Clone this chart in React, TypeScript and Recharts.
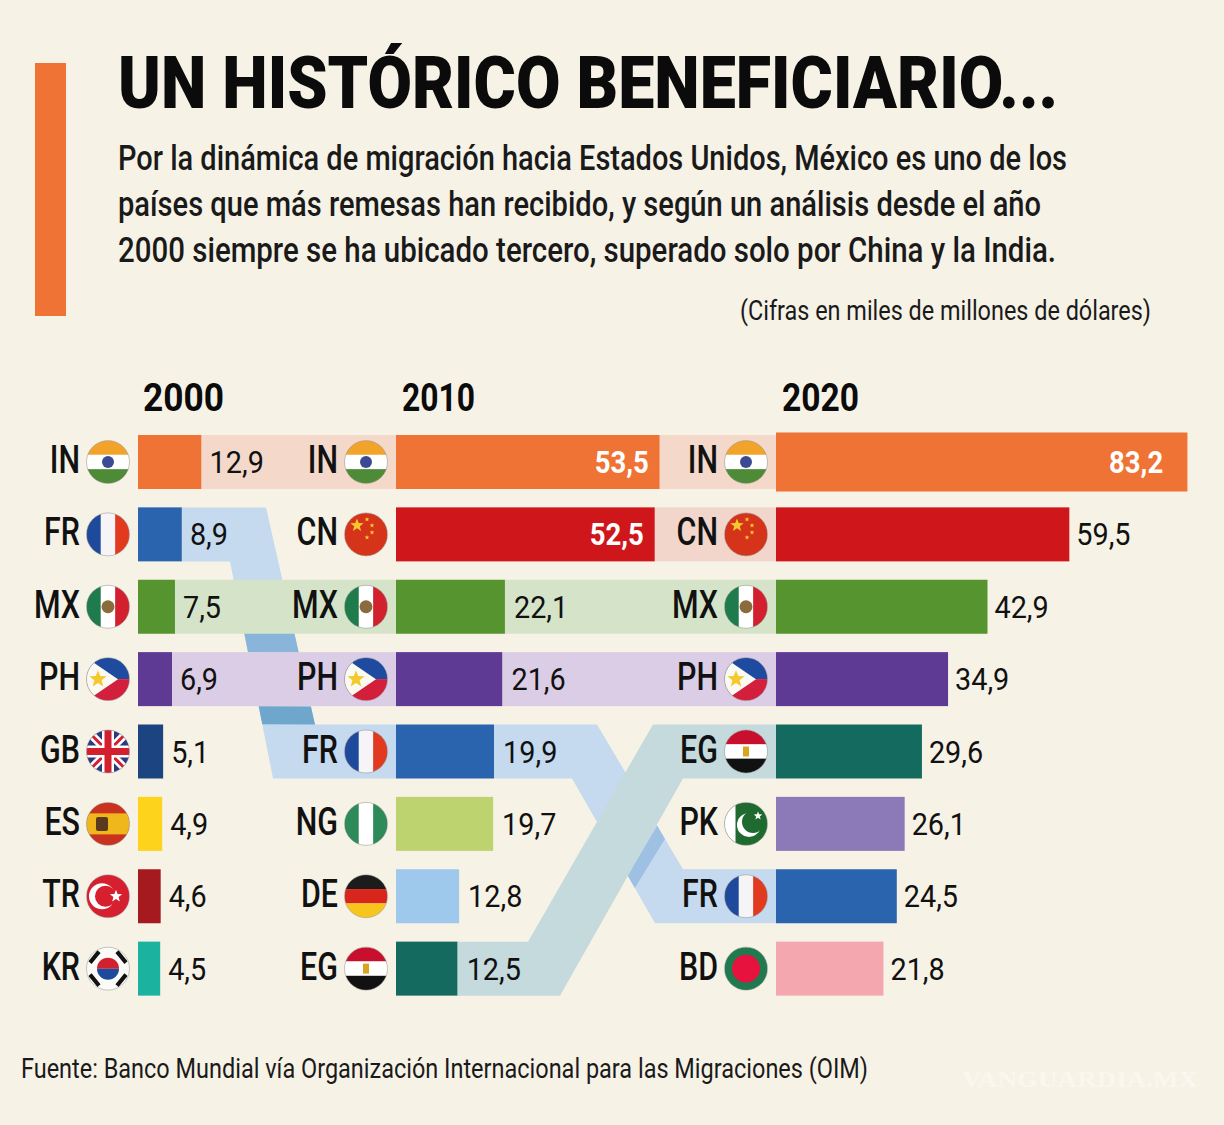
/**
 * Top remittance receivers in 2000, 2010 and 2020, as one stacked horizontal bar chart.
 * Spacers and gap segments push the three columns apart; gap segments also draw the ribbons.
 */

import { Bar, BarChart, LabelList, XAxis, YAxis } from "recharts";

const codes2000 = ["IN", "FR", "MX", "PH", "GB", "ES", "TR", "KR"];
const values2000 = [12.9, 8.9, 7.5, 6.9, 5.1, 4.9, 4.6, 4.5];
const codes2010 = ["IN", "CN", "MX", "PH", "FR", "NG", "DE", "EG"];
const values2010 = [53.5, 52.5, 22.1, 21.6, 19.9, 19.7, 12.8, 12.5];
const codes2020 = ["IN", "CN", "MX", "PH", "EG", "PK", "FR", "BD"];
const values2020 = [83.2, 59.5, 42.9, 34.9, 29.6, 26.1, 24.5, 21.8];
const years = ["2000", "2010", "2020"];
const whiteLabels2010 = ["IN", "CN"];
const whiteLabels2020 = ["IN"];

const barColors: Record<string, string> = {
  IN: "#ee7335", FR: "#2a63ae", MX: "#56942f", PH: "#5e3a94", GB: "#1c4480", ES: "#fdd31b",
  TR: "#a51a1f", KR: "#1bb2a0", CN: "#cf161b", NG: "#bdd36f", DE: "#9ec9ec", EG: "#146a5e",
  PK: "#8b79b8", BD: "#f4a7ae",
};
const bandColors: Record<string, string> = {
  IN: "#f4d9cb", CN: "#f2d5cb", MX: "#d5e4c8", PH: "#dccde6", FR: "#c5d9ef", EG: "#c4dadd",
};

// Pixels per unit and where each column starts, in chart units
const PX = 4.93;
const START_2000 = 138 / PX;
const START_2010 = 396 / PX;
const START_2020 = 776 / PX;
const ROW_STEP = 72.4;
const BG = "#f7f2e6";
const FONT = "Roboto, sans-serif";

const rows = codes2000.map((code, i) => ({
  row: code,
  spacer: START_2000,
  v2000: values2000[i],
  gap1: START_2010 - START_2000 - values2000[i],
  v2010: values2010[i],
  gap2: START_2020 - START_2010 - values2010[i],
  v2020: values2020[i],
}));

// Bend points of the ribbons: x where each edge leaves its row and reaches the next one
const ribbons: Record<string, any> = {
  "FR-1": {
    top: [266, 315], bottom: [230, 273],
    strips: [
      { right: [0.574, 0.667], left: [0.324, 0.417], fill: "#8ab5da" },
      { right: [0.917, 1], left: [0.667, 0.75], fill: "#6ea6cc" },
    ],
  },
  "FR-2": {
    top: [597, 683], bottom: [572, 655],
    strips: [{ right: [0.7, 0.79], left: [0.67, 0.757], fill: "#9dc0e3" }],
  },
  "EG-2": { top: [528, 653], bottom: [560, 683], strips: [] },
};

function GapShape(props: any, from: string[], to: string[], gap: number) {
  const { x, y, width, height, index } = props;
  const code = from[index];
  const target = to.indexOf(code);
  if (target < 0) return <g />;
  const fill = bandColors[code];
  if (target === index) return <rect x={x} y={y} width={width} height={height} fill={fill} />;

  // The ribbon ends at the start of the next column, in the row where the country lands
  const ribbon = ribbons[`${code}-${gap}`];
  const dy = (target - index) * ROW_STEP;
  const endRow = x + width;
  const points = [
    [x, y],
    [ribbon.top[0], y],
    [ribbon.top[1], y + dy],
    [endRow, y + dy],
    [endRow, y + dy + height],
    [ribbon.bottom[1], y + dy + height],
    [ribbon.bottom[0], y + height],
    [x, y + height],
  ];
  const edge = (side: number[], t: number, y0: number) => [
    side[0] + (side[1] - side[0]) * t,
    y0 + dy * t,
  ];
  return (
    <g>
      <polygon points={points.map((p) => p.join(",")).join(" ")} fill={fill} />
      {ribbon.strips.map((s: any, i: number) => {
        const strip = [
          edge(ribbon.top, s.right[0], y),
          edge(ribbon.top, s.right[1], y),
          edge(ribbon.bottom, s.left[1], y + height),
          edge(ribbon.bottom, s.left[0], y + height),
        ];
        return <polygon key={i} points={strip.map((p) => p.join(",")).join(" ")} fill={s.fill} />;
      })}
    </g>
  );
}

function ColumnShape(props: any, codes: string[], grow = 0) {
  const { x, y, width, height, index } = props;
  const extra = index === 0 ? grow : 0;
  return (
    <rect
      x={x}
      y={y - extra}
      width={width + extra / 2}
      height={height + extra * 2}
      fill={barColors[codes[index]]}
    />
  );
}

function Flag({ code, cx, cy }: { code: string; cx: number; cy: number }) {
  const r = 21.5;
  const id = `flag-${code}-${Math.round(cx)}-${Math.round(cy)}`;
  const l = cx - r;
  const t = cy - r;
  const d = r * 2;
  const third = d / 3;
  const hStripes = (a: string, b: string, c: string) => (
    <>
      <rect x={l} y={t} width={d} height={third} fill={a} />
      <rect x={l} y={t + third} width={d} height={third} fill={b} />
      <rect x={l} y={t + third * 2} width={d} height={third} fill={c} />
    </>
  );
  const vStripes = (a: string, b: string, c: string) => (
    <>
      <rect x={l} y={t} width={third} height={d} fill={a} />
      <rect x={l + third} y={t} width={third} height={d} fill={b} />
      <rect x={l + third * 2} y={t} width={third} height={d} fill={c} />
    </>
  );
  const star = (sx: number, sy: number, s: number, fill: string) => (
    <polygon
      points={[0, 1, 2, 3, 4, 5, 6, 7, 8, 9]
        .map((k) => {
          const a = (k * Math.PI) / 5 - Math.PI / 2;
          const m = k % 2 ? s * 0.42 : s;
          return `${sx + m * Math.cos(a)},${sy + m * Math.sin(a)}`;
        })
        .join(" ")}
      fill={fill}
    />
  );
  let art = null;
  if (code === "IN") {
    art = (
      <>
        {hStripes("#f2a32a", "#ffffff", "#4d8b36")}
        <circle cx={cx} cy={cy} r={6} fill="#3c4a94" />
      </>
    );
  } else if (code === "FR") {
    art = vStripes("#1f4a9c", "#f6f4f6", "#e23a1e");
  } else if (code === "MX") {
    art = (
      <>
        {vStripes("#1f7a4c", "#ffffff", "#d3202e")}
        <circle cx={cx} cy={cy} r={6.5} fill="#8b6a3c" />
      </>
    );
  } else if (code === "PH") {
    art = (
      <>
        <rect x={l} y={t} width={d} height={r} fill="#1e4aa0" />
        <rect x={l} y={cy} width={d} height={r} fill="#d31e3c" />
        <polygon points={`${l},${t} ${cx + 10},${cy} ${l},${t + d}`} fill="#fbfaf2" />
        {star(cx - 10, cy, 9, "#f4c92d")}
      </>
    );
  } else if (code === "GB") {
    art = (
      <>
        <rect x={l} y={t} width={d} height={d} fill="#2b3a7c" />
        <line x1={l} y1={t} x2={l + d} y2={t + d} stroke="#ffffff" strokeWidth={8} />
        <line x1={l + d} y1={t} x2={l} y2={t + d} stroke="#ffffff" strokeWidth={8} />
        <line x1={l} y1={t} x2={l + d} y2={t + d} stroke="#d3202e" strokeWidth={3} />
        <line x1={l + d} y1={t} x2={l} y2={t + d} stroke="#d3202e" strokeWidth={3} />
        <rect x={cx - 6} y={t} width={12} height={d} fill="#ffffff" />
        <rect x={l} y={cy - 6} width={d} height={12} fill="#ffffff" />
        <rect x={cx - 3.5} y={t} width={7} height={d} fill="#d3202e" />
        <rect x={l} y={cy - 3.5} width={d} height={7} fill="#d3202e" />
      </>
    );
  } else if (code === "ES") {
    art = (
      <>
        <rect x={l} y={t} width={d} height={d} fill="#c8321f" />
        <rect x={l} y={t + 11} width={d} height={d - 22} fill="#f0b71c" />
        <rect x={cx - 12} y={cy - 7} width={12} height={14} rx={2} fill="#5a3a1e" />
      </>
    );
  } else if (code === "TR") {
    art = (
      <>
        <rect x={l} y={t} width={d} height={d} fill="#d6202f" />
        <circle cx={cx - 6} cy={cy} r={13} fill="#ffffff" />
        <circle cx={cx - 2.5} cy={cy} r={10.5} fill="#d6202f" />
        {star(cx + 8, cy, 6.5, "#ffffff")}
      </>
    );
  } else if (code === "KR") {
    art = (
      <>
        <rect x={l} y={t} width={d} height={d} fill="#fbfbf8" />
        <path d={`M${cx - 11},${cy} A11,11 0 0 1 ${cx + 11},${cy} Z`} fill="#d3202e" />
        <path d={`M${cx - 11},${cy} A11,11 0 0 0 ${cx + 11},${cy} Z`} fill="#1f4a9c" />
        <line x1={cx - 18} y1={cy - 6} x2={cx - 9} y2={cy - 17} stroke="#111" strokeWidth={4} />
        <line x1={cx + 9} y1={cy - 17} x2={cx + 18} y2={cy - 6} stroke="#111" strokeWidth={4} />
        <line x1={cx - 18} y1={cy + 6} x2={cx - 9} y2={cy + 17} stroke="#111" strokeWidth={4} />
        <line x1={cx + 9} y1={cy + 17} x2={cx + 18} y2={cy + 6} stroke="#111" strokeWidth={4} />
      </>
    );
  } else if (code === "CN") {
    art = (
      <>
        <rect x={l} y={t} width={d} height={d} fill="#d5341a" />
        {star(cx - 9, cy - 9, 7, "#f4c92d")}
        {star(cx + 1, cy - 15, 2.5, "#f4c92d")}
        {star(cx + 6, cy - 9, 2.5, "#f4c92d")}
        {star(cx + 6, cy - 2, 2.5, "#f4c92d")}
        {star(cx + 1, cy + 3, 2.5, "#f4c92d")}
      </>
    );
  } else if (code === "NG") {
    art = vStripes("#2e8a58", "#ffffff", "#2e8a58");
  } else if (code === "DE") {
    art = hStripes("#1c1c1c", "#d9261c", "#f7c51b");
  } else if (code === "EG") {
    art = (
      <>
        {hStripes("#c8102e", "#ffffff", "#111111")}
        <rect x={cx - 3} y={cy - 5} width={6} height={10} fill="#d9a520" />
      </>
    );
  } else if (code === "PK") {
    art = (
      <>
        <rect x={l} y={t} width={d} height={d} fill="#1f6b2f" />
        <rect x={l} y={t} width={11} height={d} fill="#ffffff" />
        <circle cx={cx + 3} cy={cy + 1} r={12} fill="#ffffff" />
        <circle cx={cx + 7} cy={cy - 2} r={11} fill="#1f6b2f" />
        {star(cx + 12, cy - 8, 4.5, "#ffffff")}
      </>
    );
  } else if (code === "BD") {
    art = (
      <>
        <rect x={l} y={t} width={d} height={d} fill="#1f7a4f" />
        <circle cx={cx} cy={cy} r={14} fill="#e8123f" />
      </>
    );
  }
  return (
    <g>
      <clipPath id={id}>
        <circle cx={cx} cy={cy} r={r} />
      </clipPath>
      <g clipPath={`url(#${id})`}>{art}</g>
      <circle cx={cx} cy={cy} r={r} fill="none" stroke="#8f8f8f" strokeWidth={0.5} />
    </g>
  );
}

// Condensed look: the installed fonts have no narrow cut, so the glyphs are squeezed.
// `span` is the final width in pixels when the text has to fit an exact line.
function Narrow({ x, y, scale, anchor = "start", size, weight = 400, fill = "#111", span, family = FONT, children }: any) {
  return (
    <text
      transform={`translate(${x},${y}) scale(${scale},1)`}
      textAnchor={anchor}
      fontFamily={family}
      fontSize={size}
      fontWeight={weight}
      fill={fill}
      textLength={span ? span / scale : undefined}
      lengthAdjust={span ? "spacingAndGlyphs" : undefined}
    >
      {children}
    </text>
  );
}

function CountryMark({ code, barStart, cy }: { code: string; barStart: number; cy: number }) {
  return (
    <g>
      <Narrow x={barStart - 58} y={cy + 11} anchor="end" scale={0.8} size={38} weight={500}>
        {code}
      </Narrow>
      <Flag code={code} cx={barStart - 30} cy={cy} />
    </g>
  );
}

function ValueLabel({ value, x, cy, white }: { value: number; x: number; cy: number; white: boolean }) {
  const text = value.toFixed(1).replace(".", ",");
  return white ? (
    <Narrow x={x} y={cy + 11} anchor="end" scale={0.86} size={32} weight={700} fill="#ffffff">
      {text}
    </Narrow>
  ) : (
    <Narrow x={x} y={cy + 11} scale={0.9} size={32}>
      {text}
    </Narrow>
  );
}

export default function App() {
  return (
    <div style={{ position: "absolute", left: 0, top: 0, width: 1224, height: 1125, background: BG, overflow: "hidden" }}>
      <svg width={1224} height={1125} style={{ position: "absolute", left: 0, top: 0 }}>
        <rect x={35} y={63} width={31} height={253} fill="#ee7335" />
        <Narrow x={118} y={108} scale={0.9} size={72} weight={900} fill="#0b0b0b" span={940}>
          UN HISTÓRICO BENEFICIARIO...
        </Narrow>
        <Narrow x={118} y={170} scale={0.82} size={35} weight={500} fill="#1a1a1a" span={949}>
          Por la dinámica de migración hacia Estados Unidos, México es uno de los
        </Narrow>
        <Narrow x={118} y={216} scale={0.82} size={35} weight={500} fill="#1a1a1a" span={923}>
          países que más remesas han recibido, y según un análisis desde el año
        </Narrow>
        <Narrow x={118} y={262} scale={0.82} size={35} weight={500} fill="#1a1a1a" span={938}>
          2000 siempre se ha ubicado tercero, superado solo por China y la India.
        </Narrow>
        <Narrow x={740} y={320} scale={0.82} size={28} fill="#1a1a1a" span={411}>
          (Cifras en miles de millones de dólares)
        </Narrow>
        {years.map((year, i) => (
          <Narrow key={year} x={[143, 402, 782][i]} y={411} scale={0.95} size={38} weight={700} fill="#0b0b0b" span={[81, 73, 77][i]}>
            {year}
          </Narrow>
        ))}
        <Narrow x={21} y={1078} scale={0.82} size={28} fill="#1a1a1a" span={847}>
          Fuente: Banco Mundial vía Organización Internacional para las Migraciones (OIM)
        </Narrow>
        <Narrow x={962} y={1087} scale={0.95} size={24} weight={700} fill="#faf7ef" span={236} family="'Liberation Serif', serif">
          VANGUARDIA.MX
        </Narrow>
      </svg>
      <div style={{ position: "absolute", left: 0, top: 0 }}>
        <BarChart
          width={1224}
          height={1125}
          data={rows}
          layout="vertical"
          margin={{ top: 426, right: 0, bottom: 120, left: 0 }}
          barSize={54}
        >
          <XAxis type="number" hide domain={[0, 1224 / PX]} />
          <YAxis type="category" dataKey="row" hide />
          <Bar dataKey="spacer" stackId="a" fill="transparent" isAnimationActive={false}>
            <LabelList
              content={(p: any) => (
                <CountryMark code={codes2000[p.index]} barStart={p.x + p.width} cy={p.y + p.height / 2} />
              )}
            />
          </Bar>
          <Bar dataKey="v2000" stackId="a" isAnimationActive={false} shape={(p: any) => ColumnShape(p, codes2000)} />
          <Bar dataKey="gap1" stackId="a" isAnimationActive={false} shape={(p: any) => GapShape(p, codes2000, codes2010, 1)}>
            <LabelList
              content={(p: any) => (
                <g>
                  <ValueLabel value={values2000[p.index]} x={p.x + 8} cy={p.y + p.height / 2} white={false} />
                  <CountryMark code={codes2010[p.index]} barStart={p.x + p.width} cy={p.y + p.height / 2} />
                </g>
              )}
            />
          </Bar>
          <Bar dataKey="v2010" stackId="a" isAnimationActive={false} shape={(p: any) => ColumnShape(p, codes2010)} />
          <Bar dataKey="gap2" stackId="a" isAnimationActive={false} shape={(p: any) => GapShape(p, codes2010, codes2020, 2)}>
            <LabelList
              content={(p: any) => {
                const white = whiteLabels2010.includes(codes2010[p.index]);
                return (
                  <g>
                    <ValueLabel value={values2010[p.index]} x={white ? p.x - 11 : p.x + 9} cy={p.y + p.height / 2} white={white} />
                    <CountryMark code={codes2020[p.index]} barStart={p.x + p.width} cy={p.y + p.height / 2} />
                  </g>
                );
              }}
            />
          </Bar>
          <Bar dataKey="v2020" stackId="a" isAnimationActive={false} shape={(p: any) => ColumnShape(p, codes2020, 2.5)}>
            <LabelList
              content={(p: any) => {
                const white = whiteLabels2020.includes(codes2020[p.index]);
                return (
                  <ValueLabel value={values2020[p.index]} x={white ? p.x + p.width - 23 : p.x + p.width + 7} cy={p.y + p.height / 2} white={white} />
                );
              }}
            />
          </Bar>
        </BarChart>
      </div>
    </div>
  );
}
